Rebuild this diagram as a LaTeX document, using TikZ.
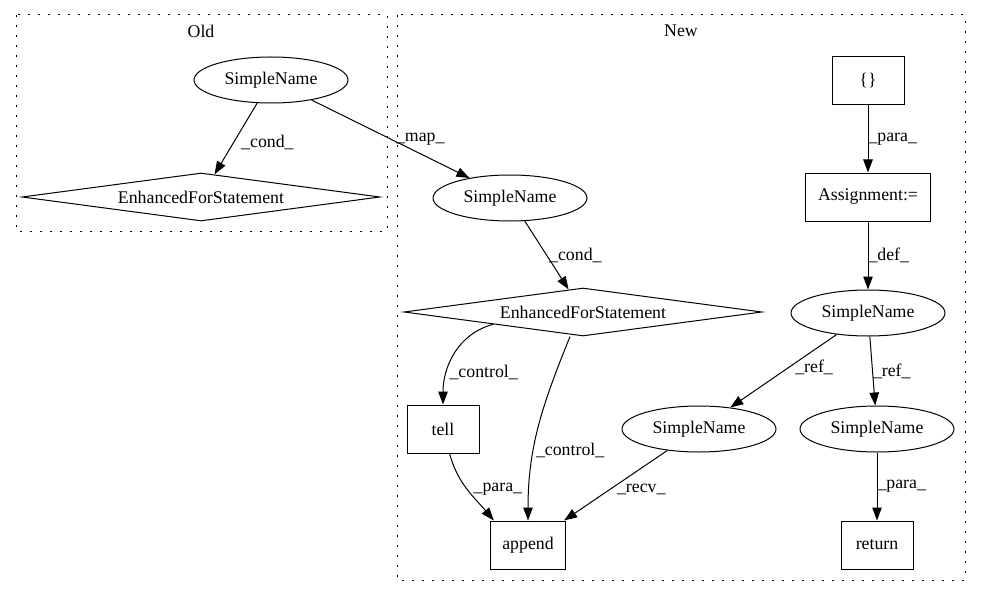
\documentclass[tikz,border=0pt]{standalone}
\usepackage{fontspec}
\setmainfont{Liberation Serif}
\usepackage{tikz}
\usetikzlibrary{shapes.geometric,arrows.meta}

\begin{document}
\begin{tikzpicture}[x=1pt,y=1pt,line width=1pt,
    every node/.style={font=\fontsize{17.8pt}{20pt}\selectfont},
    sname/.style={ellipse,draw,minimum width=154pt,minimum height=46pt,inner sep=0pt},
    forstmt/.style={diamond,draw,shape aspect=7.5,minimum width=358pt,minimum height=48pt,inner sep=0pt},
    opbox/.style={rectangle,draw,minimum width=72pt,minimum height=48pt,inner xsep=12pt,inner ysep=0pt},
    elbl/.style={anchor=west,inner sep=2pt},
    flow/.style={-{Triangle[length=13pt,width=9.5pt]}},
    cluster/.style={draw,dash pattern=on 2pt off 8pt}
    ]
    \useasboundingbox (0,0) rectangle (981,-596);
    %
    % clusters
    \draw[cluster] (16,-15) rectangle (387,-231);
    \node (oldlbl) at (201,-31) {Old};
    \draw[cluster] (397,-15) rectangle (965,-580);
    \node (newlbl) at (681,-31) {New};
    %
    % old graph
    \node[sname] (oldSN) at (271,-80) {SimpleName};
    \node[forstmt] (oldFor) at (201,-197) {EnhancedForStatement};
    %
    % new graph
    \node[sname] (newSN) at (510,-198) {SimpleName};
    \node[forstmt] (newFor) at (583,-312) {EnhancedForStatement};
    \node[opbox] (braces) at (868,-81) {\{\}};
    \node[opbox] (assign) at (868,-197) {Assignment:=};
    \node[sname] (defSN) at (868,-313) {SimpleName};
    \node[sname] (recvSN) at (699,-429) {SimpleName};
    \node[sname] (paraSN) at (877,-429) {SimpleName};
    \node[opbox] (tell) at (443,-429) {tell};
    \node[opbox] (append) at (528,-545) {append};
    \node[opbox] (ret) at (877,-545) {return};
    %
    \draw
    (oldSN) edge[flow] node[elbl,pos=.55,xshift=5pt] {\_cond\_} (oldFor)
    (oldSN) edge[flow] node[elbl,pos=.5,xshift=3pt] {\_map\_} (newSN)
    (newSN) edge[flow] node[elbl,pos=.5] {\_cond\_} (newFor)
    (braces) edge[flow] node[elbl,pos=.5,inner sep=0pt] {\_para\_} (assign)
    (assign) edge[flow] node[elbl,pos=.5,inner sep=0pt] {\_def\_} (defSN)
    (defSN) edge[flow] node[elbl,pos=.45,xshift=4pt] {\_ref\_} (recvSN)
    (defSN) edge[flow] node[elbl,pos=.5,inner sep=0pt] {\_ref\_} (paraSN)
    (paraSN) edge[flow] node[elbl,pos=.5,inner sep=0pt] {\_para\_} (ret)
    (recvSN) edge[flow] node[elbl,pos=.55,xshift=4pt] {\_recv\_} (append);
    \draw
    (newFor.south west) edge[flow,out=195,in=90] node[elbl,pos=.7] {\_control\_} (tell.north)
    ([xshift=-13pt]newFor.south) edge[flow,out=-112,in=90] node[elbl,pos=.64] {\_control\_} (append.north)
    (tell) edge[flow,out=-75,in=130] node[elbl,pos=.5,xshift=4pt] {\_para\_} ([xshift=4pt]append.north west);
    %
\end{tikzpicture}
\end{document}
